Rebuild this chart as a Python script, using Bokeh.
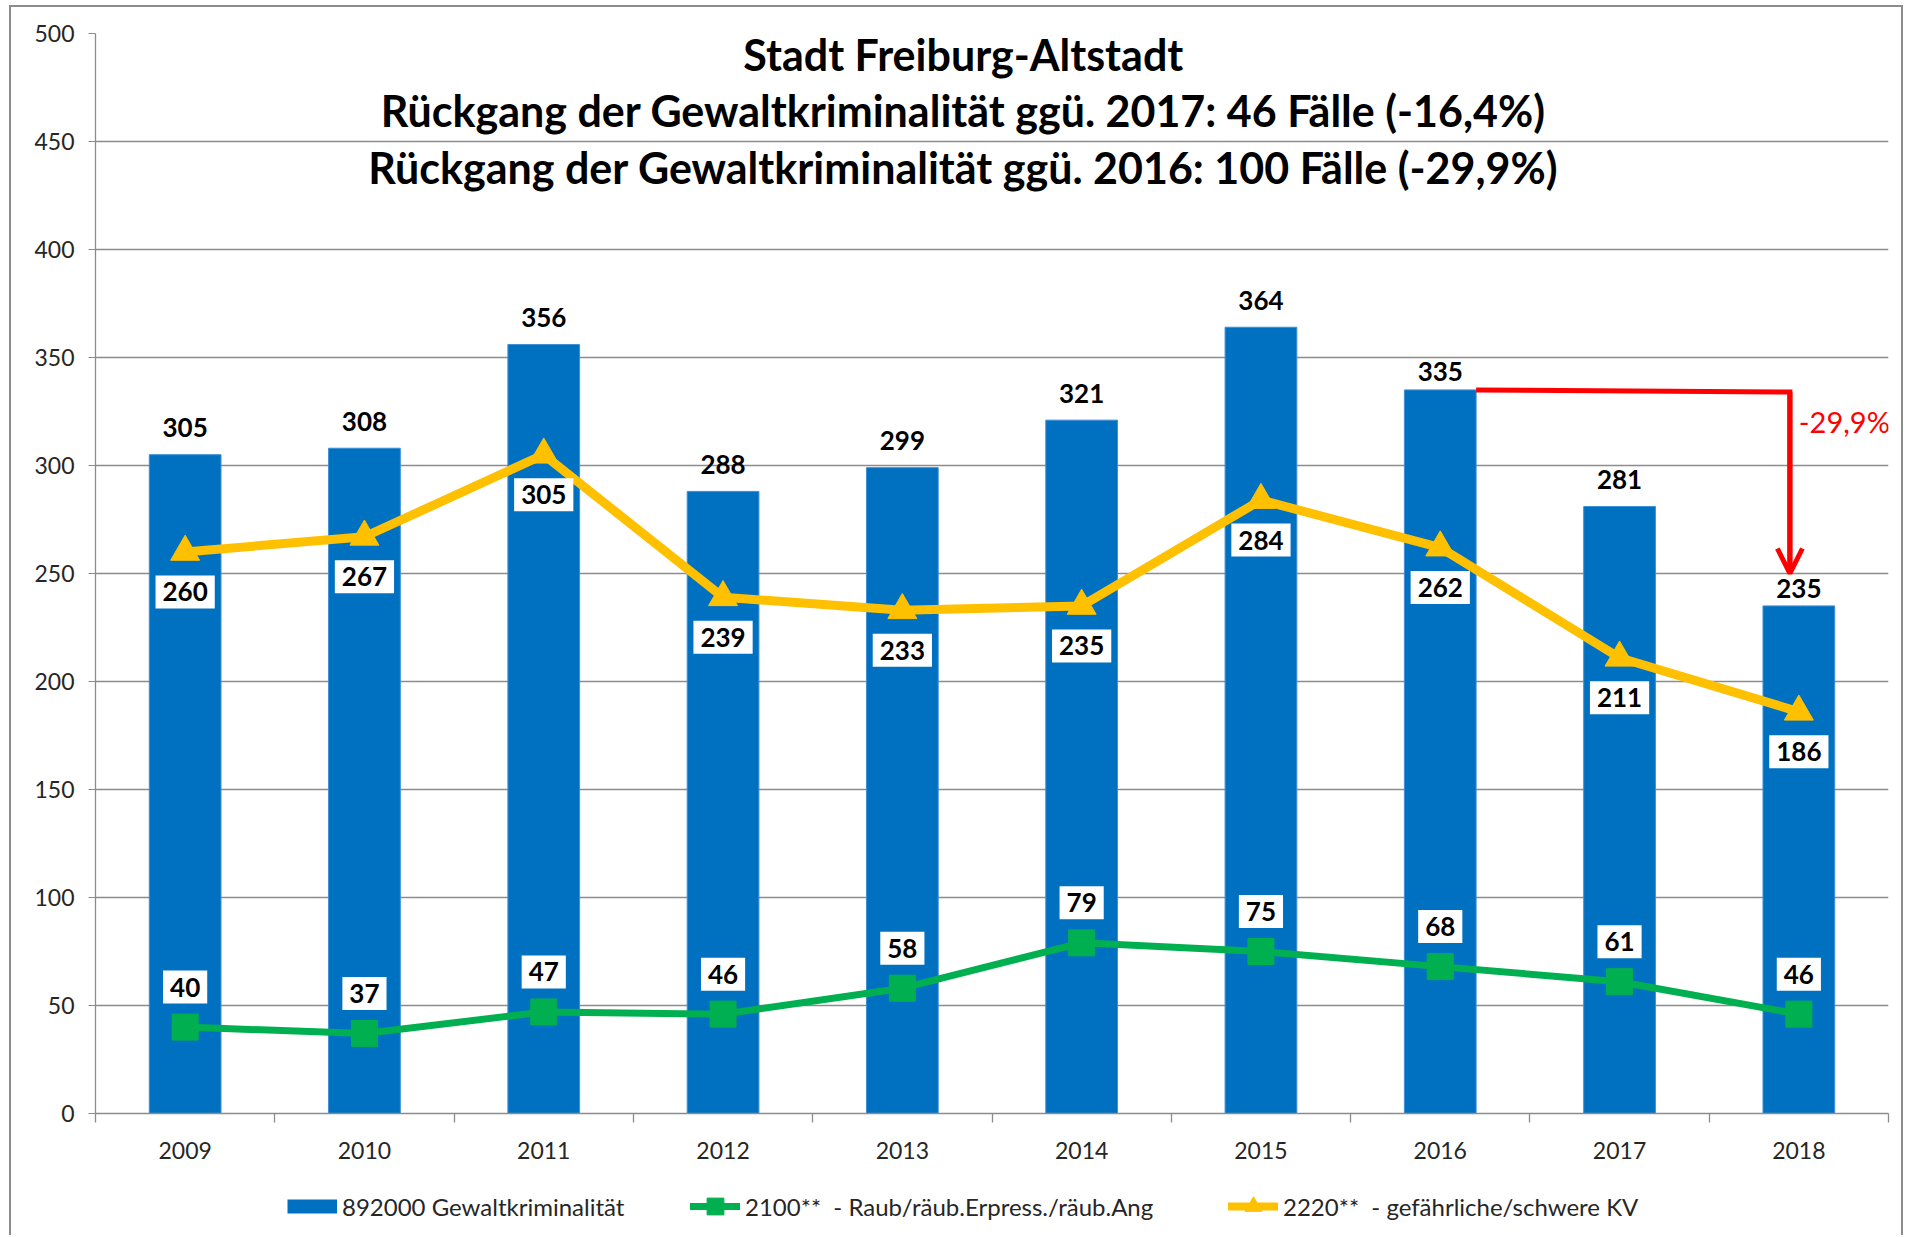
from bokeh.plotting import figure
from bokeh.layouts import column
from bokeh.models import (FixedTicker, Legend, LegendItem, Label, Arrow, OpenHead, Range1d)
from bokeh.embed import file_html
from bokeh.resources import INLINE
from bokeh.core.properties import value

# ---------------- data ----------------
years = [2009, 2010, 2011, 2012, 2013, 2014, 2015, 2016, 2017, 2018]
gewalt = [305, 308, 356, 288, 299, 321, 364, 335, 281, 235]
raub = [40, 37, 47, 46, 58, 79, 75, 68, 61, 46]
kv = [260, 267, 305, 239, 233, 235, 284, 262, 211, 186]
y_ticks = [0, 50, 100, 150, 200, 250, 300, 350, 400, 450, 500]
series_names = ["892000 Gewaltkriminalität",
                "2100**  - Raub/räub.Erpress./räub.Ang",
                "2220**  - gefährliche/schwere KV"]
title_lines = ["Stadt Freiburg-Altstadt",
               "Rückgang der Gewaltkriminalität ggü. 2017: 46 Fälle (-16,4%)",
               "Rückgang der Gewaltkriminalität ggü. 2016: 100 Fälle (-29,9%)"]
arrow_from_year = 2016
arrow_to_year = 2018
arrow_from_value = 335
arrow_to_value = 250
arrow_label = "-29,9%"

# ---------------- style ----------------
FONT = "Lato"
BLUE = "#0070C0"
GREEN = "#00B050"
ORANGE = "#FFC000"
RED = "#FF0000"
GRID = "#8c8c8c"
TXT = "#262626"
BAR_W = 0.4
# bar-label offsets (px above bar top); the two labels near the arrow sit lower
bar_label_offset = {2016: -18, 2018: -17}

p = figure(width=1890, height=1158,
           x_range=Range1d(years[0] - 0.5, years[-1] + 0.5),
           y_range=Range1d(y_ticks[0], y_ticks[-1]),
           output_backend="svg", toolbar_location=None,
           min_border_left=84, min_border_right=13,
           min_border_top=26, min_border_bottom=52)
p.outline_line_color = None
p.background_fill_color = "white"
p.border_fill_color = "white"

# axes
p.xgrid.visible = False
p.ygrid.grid_line_color = GRID
p.ygrid.grid_line_width = 1.3
p.yaxis.ticker = FixedTicker(ticks=y_ticks)
p.yaxis.axis_line_color = GRID
p.yaxis.axis_line_width = 1.3
p.yaxis.major_tick_line_color = GRID
p.yaxis.major_tick_out = 7
p.yaxis.major_tick_in = 0
p.yaxis.minor_tick_line_color = None
p.yaxis.major_label_standoff = 14
p.yaxis.major_label_text_font = FONT
p.yaxis.major_label_text_font_size = "23px"
p.yaxis.major_label_text_color = TXT

p.xaxis.ticker = FixedTicker(ticks=years, minor_ticks=[y - 0.5 for y in years] + [years[-1] + 0.5])
p.xaxis.axis_line_color = GRID
p.xaxis.axis_line_width = 1.3
p.xaxis.major_tick_out = 0
p.xaxis.major_tick_in = 0
p.xaxis.minor_tick_out = 9
p.xaxis.minor_tick_in = 0
p.xaxis.minor_tick_line_color = GRID
p.xaxis.minor_tick_line_width = 1.3
p.xaxis.major_label_standoff = 19
p.xaxis.major_label_text_font = FONT
p.xaxis.major_label_text_font_size = "23px"
p.xaxis.major_label_text_color = TXT

# bars & lines
p.vbar(x=years, top=gewalt, width=BAR_W, fill_color=BLUE, line_color="#3d8fd6", line_width=1)
p.line(years, kv, line_color=ORANGE, line_width=9)
p.scatter(years, kv, marker="triangle", size=29, fill_color=ORANGE, line_color=ORANGE)
p.line(years, raub, line_color=GREEN, line_width=7)
p.scatter(years, raub, marker="square", size=26, fill_color=GREEN, line_color=GREEN)

# data labels
lab_kw = dict(text_font=value(FONT), text_font_size="26px", text_font_style="bold",
              text_color="black", text_align="center", text_baseline="middle")
p.text(x=years, y=gewalt, text=[str(v) for v in gewalt],
       y_offset=[bar_label_offset.get(yr, -27) for yr in years], **lab_kw)
p.text(x=years, y=kv, text=[str(v) for v in kv], y_offset=40,
       background_fill_color="white", padding=7, **lab_kw)
p.text(x=years, y=raub, text=[str(v) for v in raub], y_offset=-40,
       background_fill_color="white", padding=7, **lab_kw)

# red arrow annotation
x_corner = arrow_to_year - 0.05
p.line([arrow_from_year + BAR_W / 2, x_corner, x_corner],
       [arrow_from_value, arrow_from_value - 1, arrow_to_value + 3],
       line_color=RED, line_width=5, line_join="miter")
p.add_layout(Arrow(x_start=x_corner, y_start=arrow_from_value - 1,
                   x_end=x_corner, y_end=arrow_to_value,
                   line_color=RED, line_width=5,
                   end=OpenHead(size=25, line_color=RED, line_width=5)))
p.add_layout(Label(x=arrow_to_year, y=320.5, text=arrow_label, text_color=RED,
                   text_font=FONT, text_font_size="29px", text_baseline="middle",
                   text_align="left"))

# title (inside plot area)
title_x = 2013.34
for line, ty in zip(title_lines, [490.5, 464.3, 437.8]):
    p.add_layout(Label(x=title_x, y=ty, text=line, text_font=FONT, text_font_size="43px",
                       text_font_style="bold", text_color="black",
                       text_align="center", text_baseline="middle"))

# ---------------- legend strip ----------------
q = figure(width=1890, height=70, x_range=Range1d(0, 1), y_range=Range1d(0, 1),
           output_backend="svg", toolbar_location=None, min_border=0)
q.axis.visible = False
q.grid.visible = False
q.outline_line_color = None
q.border_fill_color = "white"

# legend-only renderers (their point lies outside the visible range)
off = dict(x=[-5, -5], y=[-5, -5])
r_bar = q.line(line_color=BLUE, line_width=14, **off)
r_g_line = q.line(line_color=GREEN, line_width=7, line_cap="round", **off)
r_g_mark = q.scatter(marker="square", fill_color=GREEN, line_color=GREEN, **off)
r_o_line = q.line(line_color=ORANGE, line_width=8, line_cap="round", **off)
r_o_mark = q.scatter(marker="triangle", fill_color=ORANGE, line_color=ORANGE, **off)

# x positions are relative to the (column-aligned) plot frame
legend_items = [(series_names[0], [r_bar], 192),
                (series_names[1], [r_g_line, r_g_mark], 595),
                (series_names[2], [r_o_line, r_o_mark], 1133)]
for label, rends, lx in legend_items:
    leg = Legend(items=[LegendItem(label=label, renderers=rends)],
                 location=(lx, 8), orientation="horizontal",
                 glyph_width=50, glyph_height=42, label_standoff=5,
                 padding=0, margin=0, border_line_color=None,
                 background_fill_alpha=0, label_text_font=FONT,
                 label_text_font_size="24px", label_text_color=TXT)
    q.add_layout(leg)

layout = column(p, q, styles={"margin-left": "9px", "margin-top": "5px",
                              "border-left": "2px solid #8c8c8c",
                              "border-top": "2px solid #8c8c8c",
                              "border-right": "2px solid #8c8c8c"})

open("out.html", "w").write(file_html(layout, INLINE))
